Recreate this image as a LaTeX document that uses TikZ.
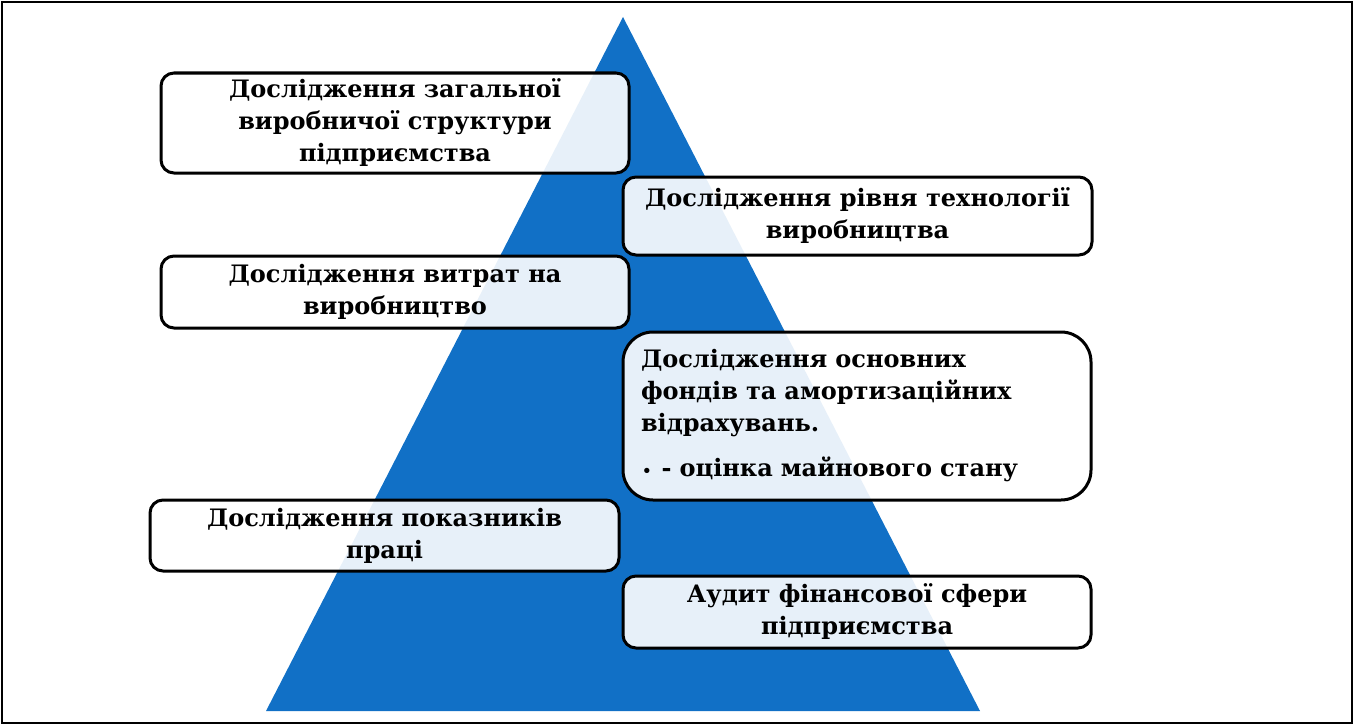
\documentclass[tikz,border=0pt]{standalone}
\usepackage{fontspec}
\setmainfont{DejaVu Serif}
\definecolor{pyrblue}{RGB}{17,112,198}
\begin{document}
\begin{tikzpicture}[x=1pt,y=-1pt,
  card/.style={draw=black, line width=3pt, rounded corners=13pt, fill=white,
    fill opacity=0.9, text opacity=1, minimum width=468pt, inner sep=0pt,
    align=center, font=\fontsize{24}{32}\selectfont\bfseries},
]
\useasboundingbox (0,0) rectangle (1354,725);
\draw[line width=2.2pt] (2,2) rectangle (1352,723);
\fill[pyrblue] (623,17) -- (980,711) -- (266,711) -- cycle;
\node[card, minimum height=100pt] (a) at (395,123)
  {Дослідження загальної\\виробничої структури\\підприємства};
\node[card, minimum width=469pt, minimum height=78pt] (b) at (857.5,216)
  {Дослідження рівня технології\\виробництва};
\node[card, minimum height=72pt] (c) at (395,292)
  {Дослідження витрат на\\виробництво};
\node[card, minimum height=168pt, rounded corners=30pt, align=left, text width=432pt] (d) at (857,416)
  {Дослідження основних\\фондів та амортизаційних\\відрахувань.\\[13pt]\hspace*{1pt}{\fontsize{15}{15}\selectfont •}\hspace{10pt}- оцінка майнового стану};
\node[card, minimum width=469pt, minimum height=71pt] (e) at (384.5,535.5)
  {Дослідження показників\\праці};
\node[card, minimum height=72pt] (f) at (857,612)
  {Аудит фінансової сфери\\підприємства};
\end{tikzpicture}
\end{document}
